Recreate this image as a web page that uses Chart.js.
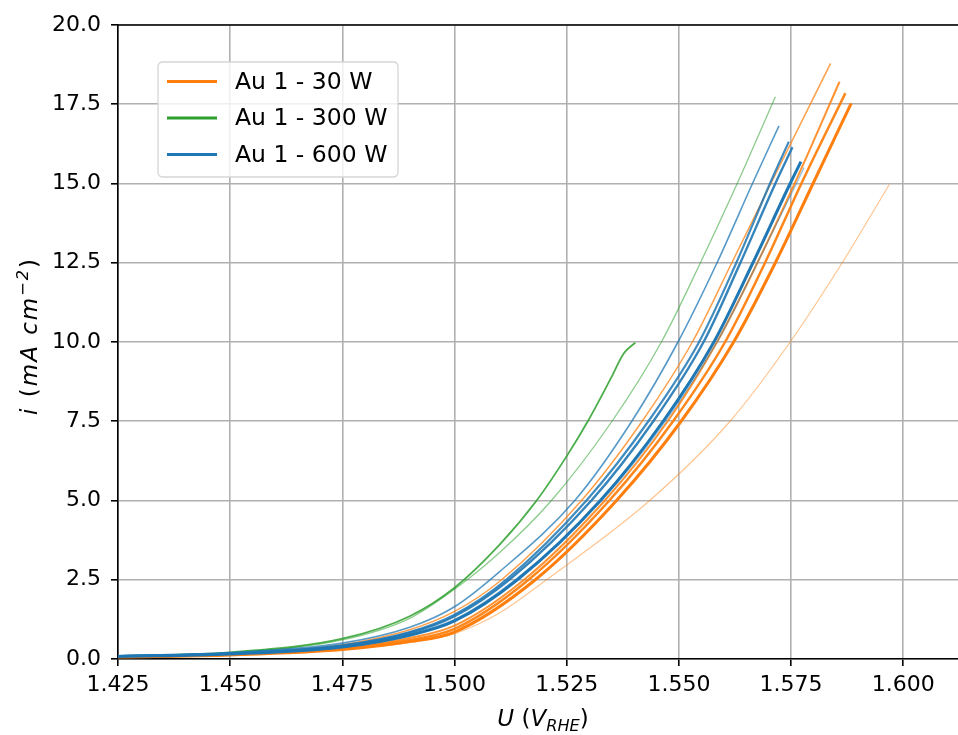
<!DOCTYPE html>
<html><head><meta charset="utf-8">
<script src="https://cdn.jsdelivr.net/npm/chart.js@4.4.0/dist/chart.umd.min.js"></script>
<style>html,body{margin:0;padding:0;background:#fff}#wrap{width:958px;height:735px}</style>
</head><body><div id="wrap"><canvas id="c" width="958" height="735"></canvas></div>
<script>
// ---------- data ----------
const seriesNames = ['Au 1 - 30 W', 'Au 1 - 300 W', 'Au 1 - 600 W'];
const xTicks = [1.425, 1.45, 1.475, 1.5, 1.525, 1.55, 1.575, 1.6];
const xTickLabels = ['1.425', '1.450', '1.475', '1.500', '1.525', '1.550', '1.575', '1.600'];
const yTicks = [0, 2.5, 5, 7.5, 10, 12.5, 15, 17.5, 20];
const yTickLabels = ['0.0', '2.5', '5.0', '7.5', '10.0', '12.5', '15.0', '17.5', '20.0'];

// Au 1 - 30 W (orange) curves: [U, i]
const orangeA = [[1.425,0.08],[1.45,0.17],[1.475,0.45],[1.49,0.92],[1.5,1.5],[1.5105,2.5],[1.5283,5],[1.5418,7.5],[1.553,10],[1.5618,12.5],[1.5705,15],[1.5838,18.79]];
const orangeB = [[1.425,0.07],[1.45,0.15],[1.475,0.35],[1.49,0.66],[1.5,1.05],[1.5155,2.5],[1.5335,5],[1.5475,7.5],[1.5585,10],[1.5675,12.5],[1.5758,15],[1.5858,18.21]];
const orangeC = [[1.425,0.07],[1.45,0.14],[1.475,0.33],[1.49,0.6],[1.5,0.95],[1.5165,2.5],[1.5345,5],[1.5487,7.5],[1.5603,10],[1.5692,12.5],[1.5773,15],[1.5871,17.85]];
const orangeD = [[1.425,0.06],[1.45,0.13],[1.475,0.3],[1.49,0.55],[1.5,0.85],[1.518,2.5],[1.5361,5],[1.5505,7.5],[1.5622,10],[1.5715,12.5],[1.5799,15],[1.5884,17.53]];
const orangeE = [[1.425,0.06],[1.45,0.13],[1.475,0.3],[1.49,0.52],[1.5,0.8],[1.51,1.45],[1.5205,2.5],[1.5435,5],[1.5614,7.5],[1.5748,10],[1.5864,12.5],[1.5969,14.97]];
// Au 1 - 300 W (green)
const greenA = [[1.425,0.09],[1.45,0.21],[1.475,0.64],[1.49,1.35],[1.5,2.25],[1.51,3.6],[1.5183,5],[1.525,6.4],[1.5297,7.5],[1.535,8.9],[1.5377,9.64],[1.5403,9.98]];
const greenB = [[1.425,0.08],[1.45,0.19],[1.475,0.6],[1.49,1.28],[1.5,2.2],[1.51,3.35],[1.5216,5],[1.5351,7.5],[1.5461,10],[1.5548,12.5],[1.563,15],[1.5715,17.74]];
// Au 1 - 600 W (blue)
const blueA = [[1.425,0.1],[1.45,0.2],[1.475,0.5],[1.49,1.0],[1.5,1.65],[1.51,2.75],[1.5268,5],[1.5395,7.5],[1.5498,10],[1.5585,12.5],[1.5664,15],[1.5723,16.82]];
const blueB = [[1.425,0.09],[1.45,0.18],[1.475,0.43],[1.49,0.85],[1.5,1.4],[1.5115,2.5],[1.5294,5],[1.5432,7.5],[1.5545,10],[1.5628,12.5],[1.5703,15],[1.5745,16.32]];
const blueC = [[1.425,0.09],[1.45,0.17],[1.475,0.41],[1.49,0.82],[1.5,1.35],[1.5122,2.5],[1.5305,5],[1.5443,7.5],[1.5555,10],[1.5637,12.5],[1.5715,15],[1.5753,16.14]];
const blueD = [[1.425,0.08],[1.45,0.16],[1.475,0.38],[1.49,0.75],[1.5,1.2],[1.514,2.5],[1.5325,5],[1.5465,7.5],[1.5578,10],[1.5665,12.5],[1.5748,15],[1.5772,15.69]];
const blueE = [[1.425,0.09],[1.45,0.17],[1.475,0.4],[1.49,0.78],[1.5,1.25],[1.5135,2.5],[1.5328,5],[1.547,7.5],[1.5585,10],[1.5675,12.5],[1.5762,15],[1.5779,15.5]];

// ---------- styling ----------
const ORANGE = [255,127,14], GREEN = [44,160,44], BLUE = [31,119,180];
function rgba(c, a){ return `rgba(${c[0]},${c[1]},${c[2]},${a})`; }
function ds(name, arr, col, alpha, width, order){
  return {label: name, data: arr.map(p => ({x: p[0], y: p[1]})), borderColor: rgba(col, alpha),
    backgroundColor: rgba(col, alpha), borderWidth: width, pointRadius: 0, pointHoverRadius: 0,
    showLine: true, fill: false, cubicInterpolationMode: 'monotone', order: order};
}
const datasets = [
  ds(seriesNames[0], orangeE, ORANGE, 0.45, 1.2, 3),
  ds(seriesNames[0], orangeA, ORANGE, 0.75, 1.5, 3),
  ds(seriesNames[0], orangeB, ORANGE, 0.85, 2.0, 3),
  ds(seriesNames[0], orangeC, ORANGE, 0.95, 2.5, 3),
  ds(seriesNames[0], orangeD, ORANGE, 1.0, 3.0, 3),
  ds(seriesNames[1], greenB, GREEN, 0.55, 1.3, 2),
  ds(seriesNames[1], greenA, GREEN, 0.85, 1.8, 2),
  ds(seriesNames[2], blueE, BLUE, 0.45, 1.3, 1),
  ds(seriesNames[2], blueA, BLUE, 0.75, 1.6, 1),
  ds(seriesNames[2], blueB, BLUE, 0.85, 2.2, 1),
  ds(seriesNames[2], blueC, BLUE, 0.9, 2.4, 1),
  ds(seriesNames[2], blueD, BLUE, 1.0, 3.0, 1)
];

const FONT = '"DejaVu Sans", Verdana, sans-serif';
const FS = 22;

function drawRuns(ctx, runs, x, y, align, size0){
  // runs: [text, italic, shift(px, negative = up), scale]
  const parts = runs.map(r => {
    const size = size0 * (r[3] || 1);
    const f = (r[1] ? 'italic ' : '') + size + 'px ' + FONT;
    ctx.font = f;
    return {t: r[0], f, w: ctx.measureText(r[0]).width, dy: r[2] || 0};
  });
  const total = parts.reduce((s, p) => s + p.w, 0);
  let cx = align === 'center' ? x - total / 2 : x;
  ctx.textBaseline = 'alphabetic';
  ctx.textAlign = 'left';
  for (const p of parts){ ctx.font = p.f; ctx.fillText(p.t, cx, y + p.dy); cx += p.w; }
}

const decor = {
  id: 'decor',
  afterDraw(chart){
    const ctx = chart.ctx, a = chart.chartArea;
    ctx.save();
    // top spine
    ctx.strokeStyle = '#000'; ctx.lineWidth = 1.6;
    ctx.beginPath(); ctx.moveTo(a.left, a.top); ctx.lineTo(a.right, a.top); ctx.stroke();
    // legend
    const lx = 158, ly = 62, lw = 240, lh = 115, r = 5;
    ctx.beginPath();
    ctx.moveTo(lx + r, ly); ctx.lineTo(lx + lw - r, ly); ctx.quadraticCurveTo(lx + lw, ly, lx + lw, ly + r);
    ctx.lineTo(lx + lw, ly + lh - r); ctx.quadraticCurveTo(lx + lw, ly + lh, lx + lw - r, ly + lh);
    ctx.lineTo(lx + r, ly + lh); ctx.quadraticCurveTo(lx, ly + lh, lx, ly + lh - r);
    ctx.lineTo(lx, ly + r); ctx.quadraticCurveTo(lx, ly, lx + r, ly); ctx.closePath();
    ctx.fillStyle = 'rgba(255,255,255,0.8)'; ctx.fill();
    ctx.strokeStyle = '#d6d6d6'; ctx.lineWidth = 1.3; ctx.stroke();
    const cols = [ORANGE, GREEN, BLUE];
    const rowsY = [81.5, 118, 154.5];
    for (let i = 0; i < 3; i++){
      ctx.strokeStyle = rgba(cols[i], 1); ctx.lineWidth = 3.2;
      ctx.beginPath(); ctx.moveTo(167, rowsY[i]); ctx.lineTo(217, rowsY[i]); ctx.stroke();
      ctx.fillStyle = '#000'; ctx.font = '23.5px ' + FONT; ctx.textBaseline = 'middle'; ctx.textAlign = 'left';
      ctx.fillText(seriesNames[i], 235, rowsY[i] + 1);
    }
    // x axis title: U (V_RHE)
    ctx.fillStyle = '#000';
    drawRuns(ctx, [['U', true], [' (', false], ['V', true], ['RHE', true, 5, 0.7], [')', false]], 543, 726, 'center', 23);
    // y axis title: i (mA cm^-2)
    ctx.translate(37, 336); ctx.rotate(-Math.PI / 2);
    ctx.letterSpacing = '2px';
    drawRuns(ctx, [['i', true], [' (', false], ['mA cm', true], ['\u22122', true, -9, 0.7], [')', false]], 0, 0, 'center', 23);
    ctx.restore();
  }
};

new Chart(document.getElementById('c'), {
  type: 'scatter',
  data: {datasets},
  options: {
    responsive: false, animation: false, devicePixelRatio: 1,
    layout: {padding: {left: 0, right: 0, top: 25, bottom: 0}, autoPadding: false},
    plugins: {legend: {display: false}, tooltip: {enabled: false}},
    scales: {
      x: {
        type: 'linear', min: 1.425, max: 1.6122,
        afterBuildTicks: s => { s.ticks = xTicks.map(v => ({value: v})); },
        afterFit: s => { s.height = 76; },
        ticks: {callback: (v, i) => xTickLabels[i], color: '#000', font: {family: FONT, size: FS}, padding: 6, maxRotation: 0, autoSkip: false},
        grid: {color: '#b0b0b0', lineWidth: 1.6, tickColor: '#000', tickLength: 7, tickWidth: 1.6},
        border: {display: true, color: '#000', width: 1.6}
      },
      y: {
        type: 'linear', min: 0, max: 20,
        afterBuildTicks: s => { s.ticks = yTicks.map(v => ({value: v})); },
        afterFit: s => { s.width = 118; },
        ticks: {callback: (v, i) => yTickLabels[i], color: '#000', font: {family: FONT, size: FS}, padding: 10, autoSkip: false},
        grid: {color: '#b0b0b0', lineWidth: 1.6, tickColor: '#000', tickLength: 7, tickWidth: 1.6},
        border: {display: true, color: '#000', width: 1.6}
      }
    }
  },
  plugins: [decor]
});
</script>
</body></html>
